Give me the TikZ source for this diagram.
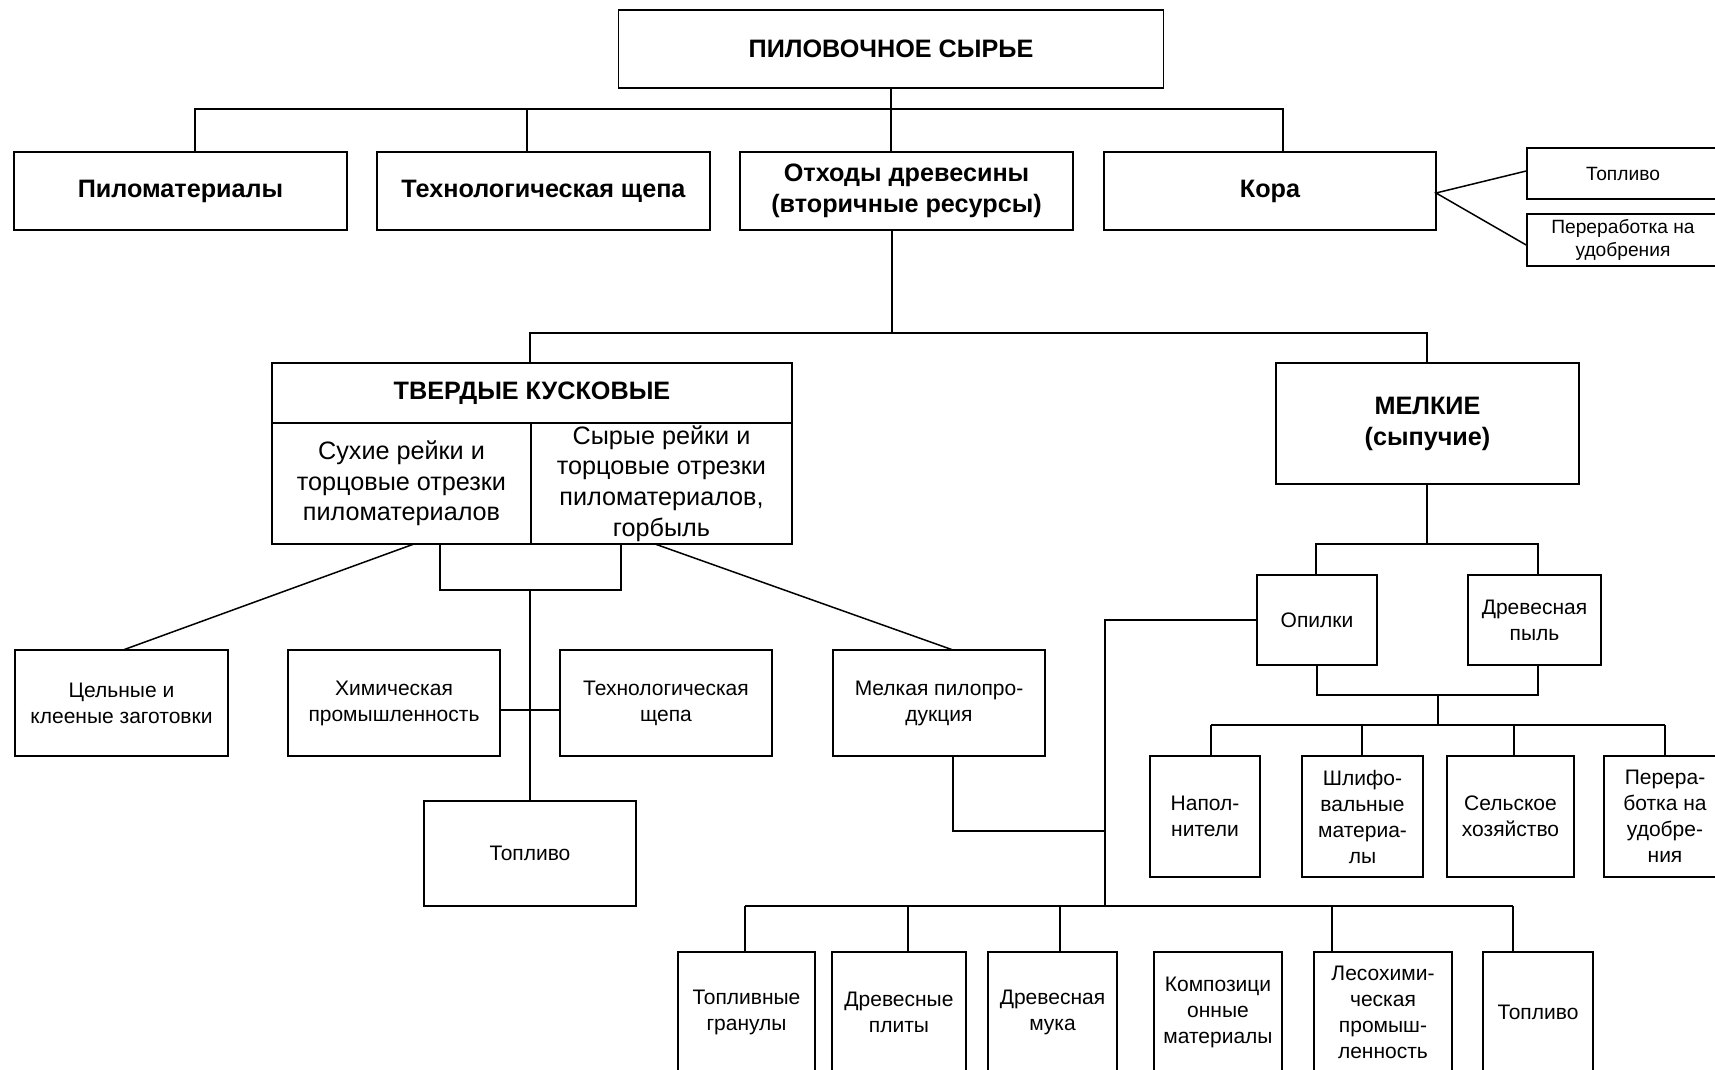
\documentclass[tikz,border=0pt]{standalone}
\usepackage{fontspec}
\setmainfont{Liberation Sans}
\begin{document}
\begin{tikzpicture}[x=0.5pt,y=-0.5pt,
  bx/.style={draw=black,line width=0.8pt,inner sep=0pt,align=center},
  bigt/.style={font=\fontsize{12.6}{15.5}\selectfont\bfseries},
  midt/.style={font=\fontsize{12.6}{15.3}\selectfont},
  smt/.style={font=\fontsize{10.5}{13}\selectfont},
  xst/.style={font=\fontsize{9.6}{11.5}\selectfont},
  ln/.style={line width=0.75pt}]
\clip (0,0) rectangle (1715,1070);
\fill[white] (0,0) rectangle (1715,1070);
% level 1-2
\node[bx,bigt,minimum width={545*0.5pt},minimum height={78*0.5pt}] (top) at (891,49) {ПИЛОВОЧНОЕ СЫРЬЕ};
\node[bx,bigt,minimum width={333*0.5pt},minimum height={78*0.5pt}] (pilo) at (180.5,191) {Пиломатериалы};
\node[bx,bigt,minimum width={333*0.5pt},minimum height={78*0.5pt}] (tech) at (543.5,191) {Технологическая щепа};
\node[bx,bigt,minimum width={333*0.5pt},minimum height={78*0.5pt}] (otx) at (906.5,191) {Отходы древесины\\(вторичные ресурсы)};
\node[bx,bigt,minimum width={332*0.5pt},minimum height={78*0.5pt}] (kora) at (1270,191) {Кора};
\node[bx,xst,minimum width={192*0.5pt},minimum height={51*0.5pt}] (fuel1) at (1623,173.5) {Топливо};
\node[bx,xst,minimum width={192*0.5pt},minimum height={52*0.5pt}] (udob1) at (1623,240) {Переработка на\\удобрения};
% level 3
\node[bx,bigt,minimum width={520*0.5pt},minimum height={60*0.5pt}] (tverd) at (532,393) {ТВЕРДЫЕ КУСКОВЫЕ};
\node[bx,midt,minimum width={259*0.5pt},minimum height={121*0.5pt}] (dry) at (401.5,483.5) {Сухие рейки и\\торцовые отрезки\\пиломатериалов};
\node[bx,midt,minimum width={261*0.5pt},minimum height={121*0.5pt}] (wet) at (661.5,483.5) {Сырые рейки и\\торцовые отрезки\\пиломатериалов,\\горбыль};
\node[bx,bigt,minimum width={303*0.5pt},minimum height={121*0.5pt}] (melk) at (1427.5,423.5) {МЕЛКИЕ\\(сыпучие)};
% level 4 left
\node[bx,smt,minimum width={213*0.5pt},minimum height={106*0.5pt}] (cel) at (121.5,703) {Цельные и\\клееные заготовки};
\node[bx,smt,minimum width={212*0.5pt},minimum height={106*0.5pt}] (chem) at (394,703) {Химическая\\промышленность};
\node[bx,smt,minimum width={212*0.5pt},minimum height={106*0.5pt}] (tech2) at (666,703) {Технологическая\\щепа};
\node[bx,smt,minimum width={212*0.5pt},minimum height={106*0.5pt}] (melpil) at (939,703) {Мелкая пилопро-\\дукция};
\node[bx,smt,minimum width={212*0.5pt},minimum height={105*0.5pt}] (fuel2) at (530,853.5) {Топливо};
% right side
\node[bx,smt,minimum width={120*0.5pt},minimum height={90*0.5pt}] (opil) at (1317,620) {Опилки};
\node[bx,smt,minimum width={133*0.5pt},minimum height={90*0.5pt}] (pyl) at (1534.5,620) {Древесная\\пыль};
\node[bx,smt,minimum width={110*0.5pt},minimum height={121*0.5pt}] (napol) at (1205,816.5) {Напол-\\нители};
\node[bx,smt,minimum width={121*0.5pt},minimum height={121*0.5pt}] (shlif) at (1362.5,816.5) {Шлифо-\\вальные\\материа-\\лы};
\node[bx,smt,minimum width={127*0.5pt},minimum height={121*0.5pt}] (selsk) at (1510.5,816.5) {Сельское\\хозяйство};
\node[bx,smt,minimum width={122*0.5pt},minimum height={121*0.5pt}] (perer) at (1665,816.5) {Перера-\\ботка на\\удобре-\\ния};
% bottom row
\node[bx,smt,minimum width={137*0.5pt},minimum height={120*0.5pt}] (gran) at (746.5,1012) {Топливные\\гранулы};
\node[bx,smt,minimum width={134*0.5pt},minimum height={120*0.5pt}] (plity) at (899,1012) {Древесные\\плиты};
\node[bx,smt,minimum width={129*0.5pt},minimum height={120*0.5pt}] (muka) at (1052.5,1012) {Древесная\\мука};
\node[bx,smt,minimum width={128*0.5pt},minimum height={120*0.5pt}] (kompoz) at (1218,1012) {Композици\\онные\\материалы};
\node[bx,smt,minimum width={138*0.5pt},minimum height={120*0.5pt}] (lesoch) at (1383,1012) {Лесохими-\\ческая\\промыш-\\ленность};
\node[bx,smt,minimum width={110*0.5pt},minimum height={120*0.5pt}] (fuel3) at (1538,1012) {Топливо};
% coordinates
\coordinate (b1L) at (195,109);
\coordinate (b1T) at (527,109);
\coordinate (b1M) at (891,109);
\coordinate (b1R) at (1283,109);
\coordinate (b2L) at (530,333);
\coordinate (b2M) at (892,333);
\coordinate (b2R) at (1427,333);
\coordinate (k0) at (1436,193);
\coordinate (k1) at (1527,171);
\coordinate (k2) at (1527,245);
\coordinate (d1) at (414,544);
\coordinate (d2) at (123,650);
\coordinate (w1) at (655,544);
\coordinate (w2) at (953,650);
\coordinate (brL) at (440,590);
\coordinate (brR) at (621,590);
\coordinate (brM) at (530,590);
\coordinate (hz) at (530,710);
\coordinate (mp) at (953,831);
\coordinate (vx) at (1105,831);
\coordinate (vtop) at (1105,620);
\coordinate (vbot) at (1105,906);
\coordinate (m1) at (1427,544);
\coordinate (mL) at (1316,544);
\coordinate (mR) at (1538,544);
\coordinate (oL) at (1317,695);
\coordinate (oR) at (1538,695);
\coordinate (oM) at (1438,695);
\coordinate (r0) at (1438,725);
\coordinate (rL) at (1211,725);
\coordinate (r2) at (1362,725);
\coordinate (r3) at (1514,725);
\coordinate (rR) at (1665,725);
\coordinate (bL) at (745,906);
\coordinate (bP) at (908,906);
\coordinate (bM) at (1060,906);
\coordinate (bC) at (1332,906);
\coordinate (bR) at (1513,906);
% connectors level 1-2
\draw[ln] (top.south) -- (b1M);
\draw[ln] (b1M) -- (b1M |- otx.north);
\draw[ln] (pilo.north -| b1L) -- (b1L) -- (b1R) -- (kora.north -| b1R);
\draw[ln] (b1T) -- (b1T |- tech.north);
\draw[ln] (fuel1.west |- k1) -- (k0) -- (udob1.west |- k2);
% level 3
\draw[ln] (otx.south -| b2M) -- (b2M);
\draw[ln] (tverd.north -| b2L) -- (b2L) -- (b2R) -- (melk.north -| b2R);
% below tverd
\draw[ln] (d1) -- (d2);
\draw[ln] (w1) -- (w2);
\draw[ln] (dry.south -| brL) -- (brL) -- (brR) -- (wet.south -| brR);
\draw[ln] (brM) -- (fuel2.north -| brM);
\draw[ln] (chem.east |- hz) -- (tech2.west |- hz);
\draw[ln] (melpil.south -| mp) -- (mp) -- (vx);
% right side
\draw[ln] (melk.south -| m1) -- (m1);
\draw[ln] (opil.north -| mL) -- (mL) -- (mR) -- (pyl.north -| mR);
\draw[ln] (opil.west) -- (vtop) -- (vbot);
\draw[ln] (opil.south -| oL) -- (oL) -- (oR) -- (pyl.south -| oR);
\draw[ln] (oM) -- (r0);
\draw[ln] (rL) -- (rR);
\draw[ln] (rL) -- (rL |- napol.north);
\draw[ln] (r2) -- (r2 |- shlif.north);
\draw[ln] (r3) -- (r3 |- selsk.north);
\draw[ln] (rR) -- (rR |- perer.north);
% bottom bus
\draw[ln] (bL) -- (bR);
\draw[ln] (bL) -- (bL |- gran.north);
\draw[ln] (bP) -- (bP |- plity.north);
\draw[ln] (bM) -- (bM |- muka.north);
\draw[ln] (bC) -- (bC |- lesoch.north);
\draw[ln] (bR) -- (bR |- fuel3.north);
\end{tikzpicture}
\end{document}
